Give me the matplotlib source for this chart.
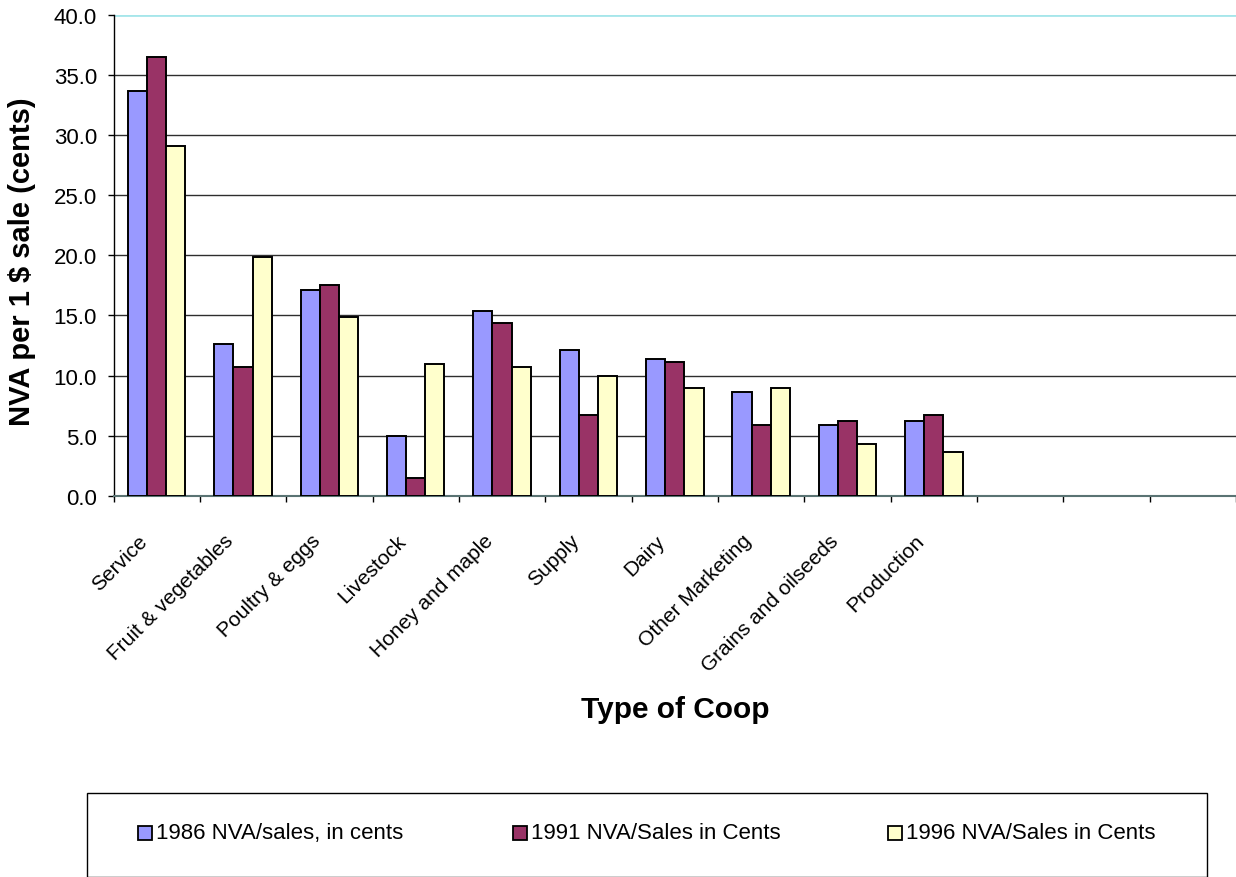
import matplotlib
matplotlib.use('Agg')
import matplotlib.pyplot as plt
from matplotlib.patches import Rectangle
import matplotlib.transforms as mtransforms
import numpy as np

plt.rcParams['font.family'] = ['Liberation Sans', 'DejaVu Sans']

# ---- data ----
categories = ['Service', 'Fruit & vegetables', 'Poultry & eggs', 'Livestock',
              'Honey and maple', 'Supply', 'Dairy', 'Other Marketing',
              'Grains and oilseeds', 'Production']
n_slots = 13  # the category axis has three empty slots at the end
series_names = ['1986 NVA/sales, in cents', '1991 NVA/Sales in Cents',
                '1996 NVA/Sales in Cents']
v1986 = [33.7, 12.6, 17.1, 5.0, 15.4, 12.1, 11.4, 8.6, 5.9, 6.2]
v1991 = [36.5, 10.7, 17.5, 1.5, 14.4, 6.7, 11.1, 5.9, 6.2, 6.7]
v1996 = [29.1, 19.9, 14.9, 11.0, 10.7, 10.0, 9.0, 9.0, 4.3, 3.6]
y_ticks = [0, 5, 10, 15, 20, 25, 30, 35, 40]
colors = ['#9999FF', '#993366', '#FFFFCC']

W, H = 1236, 878
fig = plt.figure(figsize=(W / 100, H / 100), dpi=100)
left_px, top_px, bot_px, right_px = 113.5, 16.0, 496.7, 1236.0
ax = fig.add_axes([left_px / W, 1 - bot_px / H, (right_px - left_px) / W,
                   (bot_px - top_px) / H])

x = np.arange(len(categories))
bw = 1 / 4.5
for k, (vals, c) in enumerate(zip([v1986, v1991, v1996], colors)):
    ax.bar(x + (k - 1) * bw, vals, bw, color=c, edgecolor='black',
           linewidth=1.4, zorder=3)

ax.set_xlim(-0.5, n_slots - 0.5)
ax.set_ylim(0, 40)
ax.set_yticks(y_ticks)
ax.set_yticklabels([f'{t:.1f}' for t in y_ticks], fontsize=16)
ax.yaxis.grid(True, color='#2e2e2e', linewidth=1.0, zorder=0)
ax.get_ygridlines()[-1].set_color('#a6e6ea')
ax.get_ygridlines()[-1].set_linewidth(2.0)
ax.set_axisbelow(True)

ax.set_xticks(np.arange(-0.5, n_slots, 1))
ax.set_xticklabels([])
ax.tick_params(axis='x', direction='out', length=4.3, width=1, color='black')
ax.tick_params(axis='y', direction='out', length=4.3, width=1, color='black',
               pad=7.5)

for s in ['top', 'right']:
    ax.spines[s].set_visible(False)
ax.spines['left'].set_color('black')
ax.spines['left'].set_linewidth(1.0)
ax.spines['bottom'].set_color('#5a7373')
ax.spines['bottom'].set_linewidth(1.5)

off = mtransforms.ScaledTranslation(-19 / 100, -35 / 100, fig.dpi_scale_trans)
for i, cat in enumerate(categories):
    ax.text(i, 0, cat, transform=ax.get_xaxis_transform() + off,
            rotation=45, ha='right', va='top', rotation_mode='anchor',
            fontsize=15)

fig.text(22 / W, 1 - 262 / H, 'NVA per 1 $ sale (cents)', rotation=90,
         ha='center', va='center', fontsize=21, fontweight='bold')
fig.text(675 / W, 1 - 718 / H, 'Type of Coop', ha='center', va='baseline',
         fontsize=21.5, fontweight='bold')

# ---- legend ----
fig.add_artist(Rectangle((86.7 / W, 1 - 877.5 / H), (1207 - 86.7) / W,
                         (877.5 - 794) / H, transform=fig.transFigure,
                         fill=False, edgecolor='black', linewidth=1.0))
entry_x = [138, 513, 888]
for ex, name, c in zip(entry_x, series_names, colors):
    fig.add_artist(Rectangle((ex / W, 1 - 841 / H), 14 / W, 14 / H,
                             transform=fig.transFigure, facecolor=c,
                             edgecolor='black', linewidth=1.3))
    fig.text((ex + 18) / W, 1 - 839.5 / H, name, ha='left', va='baseline',
             fontsize=16)

fig.savefig('out.png', dpi=100)
